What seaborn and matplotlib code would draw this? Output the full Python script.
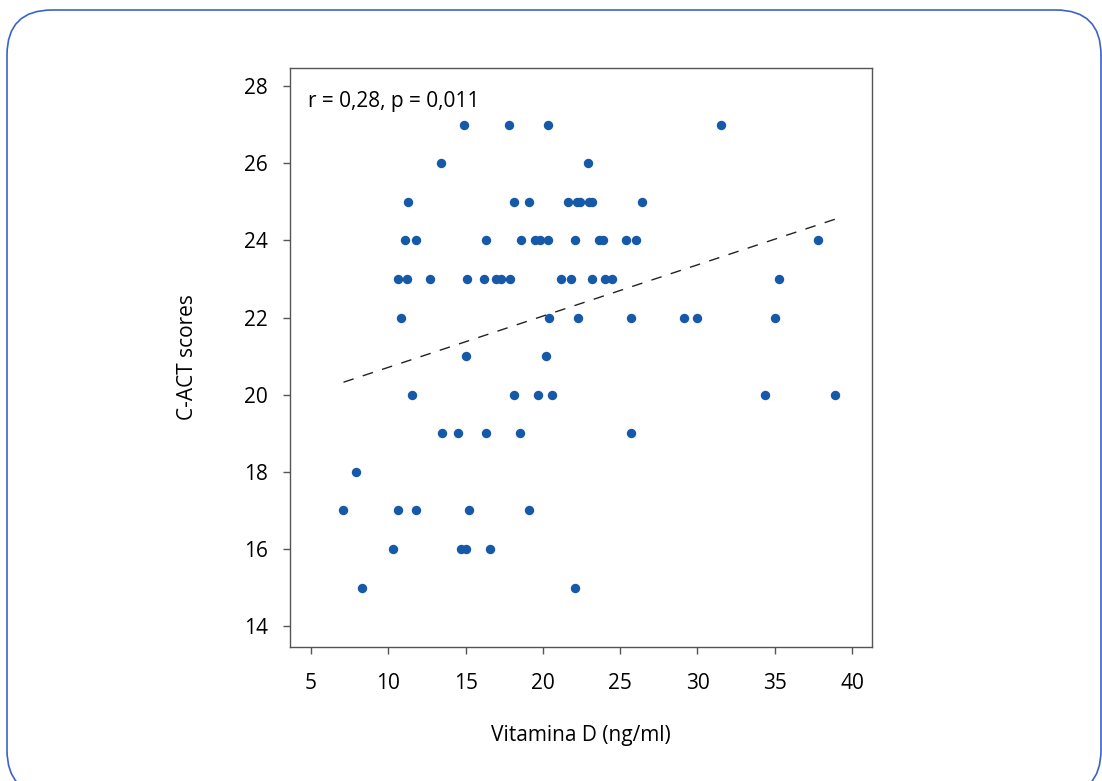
import seaborn as sns
import matplotlib.pyplot as plt
import matplotlib.patches as mpatches
from matplotlib.transforms import IdentityTransform
import pandas as pd

# values, row by row (C-ACT score, vitamin D)
vit_d_27 = [14.9, 17.8, 20.3, 31.5]
vit_d_26 = [13.4, 22.9]
vit_d_25 = [11.3, 18.1, 19.1, 21.6, 22.2, 22.4, 23.0, 23.2, 26.4]
vit_d_24 = [11.1, 11.8, 16.3, 18.6, 19.5, 19.8, 20.3, 22.1, 23.6, 23.9, 25.4, 26.0, 37.8]
vit_d_23 = [10.6, 11.2, 12.7, 15.1, 16.2, 16.95, 17.3, 17.9, 21.2, 21.8, 23.2, 24.0, 24.5, 35.3]
vit_d_22 = [10.8, 20.4, 22.3, 25.7, 29.1, 30.0, 35.0]
vit_d_21 = [15.0, 20.2]
vit_d_20 = [11.5, 18.1, 19.7, 20.6, 34.4, 38.9]
vit_d_19 = [13.5, 14.5, 16.3, 18.5, 25.7]
vit_d_18 = [7.9]
vit_d_17 = [7.1, 10.6, 11.8, 15.2, 19.1]
vit_d_16 = [10.3, 14.7, 15.0, 16.6]
vit_d_15 = [8.3, 22.1]

scores = [27, 26, 25, 24, 23, 22, 21, 20, 19, 18, 17, 16, 15]
rows = [vit_d_27, vit_d_26, vit_d_25, vit_d_24, vit_d_23, vit_d_22, vit_d_21,
        vit_d_20, vit_d_19, vit_d_18, vit_d_17, vit_d_16, vit_d_15]

x_ticks = [5, 10, 15, 20, 25, 30, 35, 40]
y_ticks = [14, 16, 18, 20, 22, 24, 26, 28]

vit, act = [], []
for s, r in zip(scores, rows):
    vit += r
    act += [s] * len(r)
df = pd.DataFrame({'vitd': vit, 'cact': act})

sns.set_style('white')
plt.rcParams['font.family'] = ['Open Sans', 'DejaVu Sans']
fs = 15

fig = plt.figure(figsize=(11.02, 7.81), dpi=100)
ax = fig.add_axes([290 / 1102, (781 - 647) / 781, 582 / 1102, 579 / 781])

sns.scatterplot(data=df, x='vitd', y='cact', ax=ax, color='#1659a9', s=46, linewidth=0)
sns.regplot(data=df, x='vitd', y='cact', ax=ax, scatter=False, ci=None, truncate=True,
            line_kws={'color': '#222222', 'linewidth': 1.0, 'linestyle': (0, (7.7, 6.9))})

ax.set_xlim(3.64, 41.29)
ax.set_ylim(13.46, 28.47)
ax.set_xticks(x_ticks)
ax.set_yticks(y_ticks)

for sp in ax.spines.values():
    sp.set_color('#555555')
    sp.set_linewidth(1.0)
ax.tick_params(axis='both', direction='out', length=5, width=1.0, color='#555555',
               labelsize=fs, labelcolor='black')
ax.tick_params(axis='x', pad=14, bottom=True)
ax.tick_params(axis='y', pad=11, left=True)

ax.set_xlabel('Vitamina D (ng/ml)', fontsize=fs, color='black')
ax.set_ylabel('C-ACT scores', fontsize=fs, color='black')
ax.xaxis.set_label_coords(0.5, -0.1347)
ax.yaxis.set_label_coords(-0.158, 0.5)

ax.text(0.031, 0.943, 'r = 0,28, p = 0,011', transform=ax.transAxes,
        ha='left', va='center', fontsize=fs, color='black')

# rounded frame around the whole figure
frame = mpatches.FancyBboxPatch((7, -14), 1094, 781 - 10 + 14,
                                boxstyle='round,pad=0,rounding_size=45',
                                transform=IdentityTransform(), fill=False,
                                edgecolor='#3a63c8', linewidth=1.2)
fig.patches.append(frame)

plt.savefig('out.png', dpi=100)
plt.close()
